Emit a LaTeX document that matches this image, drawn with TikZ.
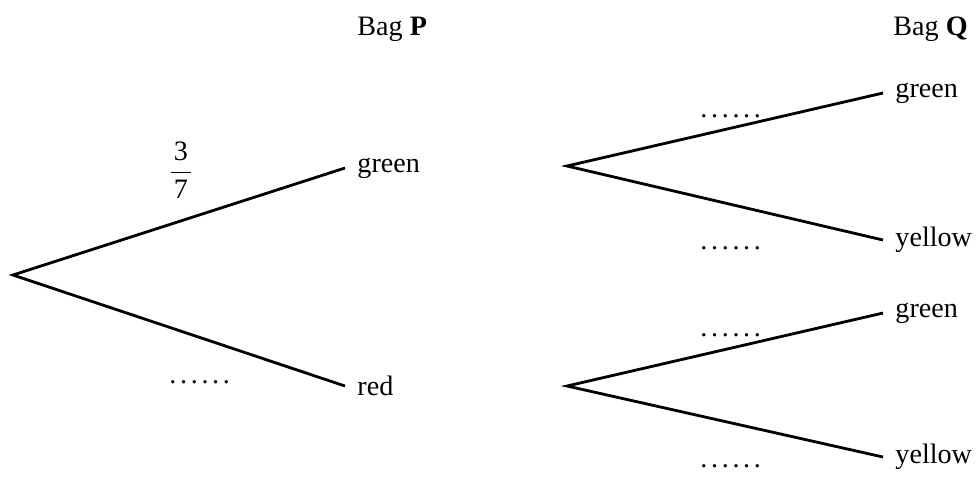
\documentclass[tikz,border=0pt]{standalone}
\usepackage{fontspec}
\setmainfont{Liberation Serif}
\usepackage{tikz}
\usetikzlibrary{positioning}
\newcommand{\blankdots}{.\kern0.13em.\kern0.13em.\kern0.13em.\kern0.13em.\kern0.13em.}

\begin{document}
\begin{tikzpicture}[x=0.015cm, y=-0.015cm,
  every node/.style={font=\fontsize{12pt}{14pt}\selectfont},
  outcome/.style={anchor=west, inner xsep=12*0.015cm, inner ysep=0pt},
  blank/.style={anchor=base west, inner sep=0pt},
  branch/.style={line width=1.2pt, line join=miter},
]
  \useasboundingbox (0,0) rectangle (978,476);

  % Headings
  \node[anchor=base west, inner sep=0pt] (bagp) at (357,35) {Bag \textbf{P}};
  \node[anchor=base west, inner sep=0pt] (bagq) at (893,35) {Bag \textbf{Q}};

  % Bag P
  \coordinate (root) at (13,275);
  \node[outcome] (pg) at (345,168) {green};
  \node[outcome] (pr) at (345,386) {red};
  \draw[branch] (pg.west) -- (root) -- (pr.west);
  \node[inner sep=0pt] (pgp) at (181,170)
    {$\displaystyle\frac{\mbox{\kern0.12em 3\kern0.12em}}{\mbox{\kern0.12em 7\kern0.12em}}$};
  \node[blank] (prp) at (169,383) {\blankdots};

  % Bag Q after green
  \coordinate (qg) at (567,166);
  \node[outcome] (gg) at (883,93) {green};
  \node[outcome] (gy) at (883,240) {yellow};
  \draw[branch] (gg.west) -- (qg) -- (gy.west);
  \node[blank] (ggp) at (700,117) {\blankdots};
  \node[blank] (gyp) at (700,249) {\blankdots};

  % Bag Q after red
  \coordinate (qr) at (567,386);
  \node[outcome] (rg) at (883,313) {green};
  \node[outcome] (ry) at (883,457) {yellow};
  \draw[branch] (rg.west) -- (qr) -- (ry.west);
  \node[blank] (rgp) at (700,336) {\blankdots};
  \node[blank] (ryp) at (700,467) {\blankdots};
\end{tikzpicture}
\end{document}
